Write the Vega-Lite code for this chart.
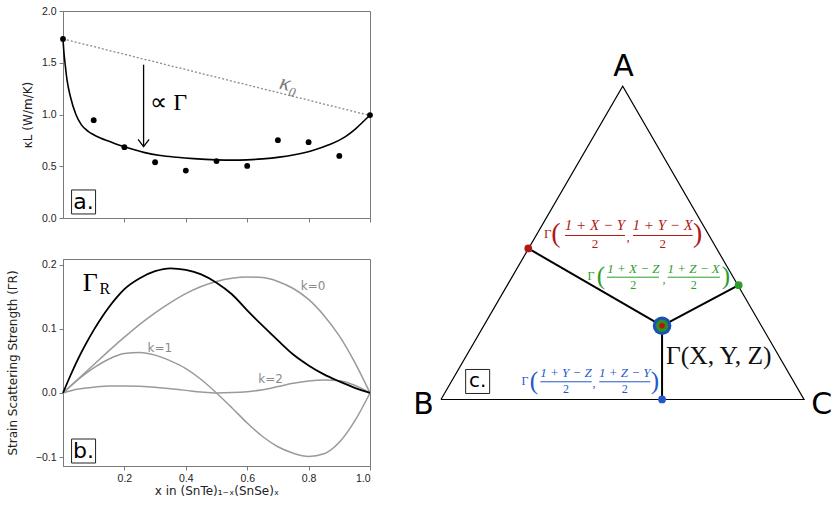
{
  "$schema": "https://vega.github.io/schema/vega-lite/v6.json",
  "padding": {"left": 5, "top": 5, "right": 0, "bottom": 0},
  "background": "white",
  "config": {
    "view": {"stroke": "#7a7a7a", "strokeWidth": 1},
    "axis": {"domainColor": "#7a7a7a", "tickColor": "#7a7a7a", "labelFont": "Liberation Sans", "labelFontSize": 10.5, "labelColor": "#222", "titleFont": "DejaVu Sans", "titleFontSize": 12, "titleFontWeight": "normal", "titleColor": "#222", "grid": false, "tickSize": 4, "labelPadding": 3}
  },
  "spacing": 16,
  "hconcat": [
    {
      "spacing": 34,
      "vconcat": [
        {
          "width": 307,
          "height": 207,
          "encoding": {
            "x": {"field": "x", "type": "quantitative", "scale": {"domain": [0, 1], "nice": false, "zero": false}, "axis": {"values": [0.2, 0.4, 0.6, 0.8, 1.0], "labels": false, "title": null}},
            "y": {"field": "y", "type": "quantitative", "scale": {"domain": [0, 2], "nice": false}, "axis": {"values": [0, 0.5, 1, 1.5, 2], "format": ".1f", "title": "κL (W/m/K)", "titlePadding": 7}}
          },
          "layer": [
            {"data": {"values": [{"x": 0, "y": 1.73}, {"x": 1, "y": 0.99}]}, "mark": {"type": "line", "color": "#8a8a8a", "strokeDash": [2, 2], "strokeWidth": 1.3}},
            {"data": {"values": [
              {"x": 0, "y": 1.73}, {"x": 0.003, "y": 1.6}, {"x": 0.0065, "y": 1.5}, {"x": 0.013, "y": 1.336}, {"x": 0.024, "y": 1.174}, {"x": 0.042, "y": 1.0}, {"x": 0.06, "y": 0.9}, {"x": 0.083, "y": 0.835}, {"x": 0.1, "y": 0.805}, {"x": 0.12, "y": 0.776}, {"x": 0.143, "y": 0.748}, {"x": 0.17, "y": 0.718}, {"x": 0.2, "y": 0.688}, {"x": 0.263, "y": 0.634}, {"x": 0.317, "y": 0.604}, {"x": 0.371, "y": 0.587}, {"x": 0.425, "y": 0.574}, {"x": 0.5, "y": 0.562}, {"x": 0.55, "y": 0.559}, {"x": 0.6, "y": 0.562}, {"x": 0.65, "y": 0.571}, {"x": 0.705, "y": 0.588}, {"x": 0.758, "y": 0.614}, {"x": 0.813, "y": 0.652}, {"x": 0.866, "y": 0.707}, {"x": 0.92, "y": 0.787}, {"x": 0.953, "y": 0.862}, {"x": 0.975, "y": 0.923}, {"x": 1.0, "y": 0.994}
            ]}, "mark": {"type": "line", "color": "black", "strokeWidth": 1.6, "interpolate": "monotone"}},
            {"data": {"values": [
              {"x": 0, "y": 1.73}, {"x": 0.1, "y": 0.945}, {"x": 0.2, "y": 0.684}, {"x": 0.3, "y": 0.539}, {"x": 0.4, "y": 0.458}, {"x": 0.5, "y": 0.55}, {"x": 0.6, "y": 0.503}, {"x": 0.7, "y": 0.752}, {"x": 0.8, "y": 0.733}, {"x": 0.9, "y": 0.6}, {"x": 1.0, "y": 0.994}
            ]}, "mark": {"type": "point", "filled": true, "color": "black", "size": 34, "opacity": 1}},
            {"data": {"values": [{"x": 0.2625, "y": 1.481, "y2": 0.7}]}, "mark": {"type": "rule", "color": "black", "strokeWidth": 1.3}, "encoding": {"y2": {"field": "y2"}}},
            {"data": {"values": [{"x": 0.2625, "y": 0.69}]}, "mark": {"type": "point", "shape": "M-1,-1.3L0,0L1,-1.3", "filled": false, "stroke": "black", "strokeWidth": 1.3, "size": 121, "opacity": 1}},
            {"data": {"values": [{"x": 0.2843, "y": 1.108, "t": "∝ Γ"}]}, "mark": {"type": "text", "align": "left", "baseline": "middle", "font": "Liberation Serif", "fontSize": 24, "color": "black"}, "encoding": {"text": {"field": "t"}}},
            {"data": {"values": [{"x": 0.736, "y": 1.297, "t": "κ₀"}]}, "mark": {"type": "text", "align": "center", "baseline": "middle", "font": "Liberation Serif", "fontStyle": "italic", "fontSize": 22, "color": "#777", "angle": 14}, "encoding": {"text": {"field": "t"}}},
            {"data": {"values": [{"x": 0.067, "y": 0.155}]}, "mark": {"type": "square", "size": 576, "fill": "white", "stroke": "#222", "strokeWidth": 1, "opacity": 1}},
            {"data": {"values": [{"x": 0.067, "y": 0.155, "t": "a."}]}, "mark": {"type": "text", "align": "center", "baseline": "middle", "font": "DejaVu Sans", "fontSize": 22, "color": "black"}, "encoding": {"text": {"field": "t"}}}
          ]
        },
        {
          "width": 307,
          "height": 207,
          "encoding": {
            "x": {"field": "x", "type": "quantitative", "scale": {"domain": [0, 1], "nice": false, "zero": false}, "axis": {"values": [0.2, 0.4, 0.6, 0.8, 1.0], "format": ".1f", "title": "x in (SnTe)₁₋ₓ(SnSe)ₓ", "titlePadding": 2}},
            "y": {"field": "y", "type": "quantitative", "scale": {"domain": [-0.114, 0.209], "nice": false, "zero": false}, "axis": {"values": [-0.1, 0, 0.1, 0.2], "format": ".1f", "title": "Strain Scattering Strength (ΓR)", "titlePadding": 16}}
          },
          "layer": [
            {"data": {"name": "curvesK"}, "mark": {"type": "line", "color": "#9a9a9a", "strokeWidth": 1.5, "interpolate": "monotone"}, "encoding": {"detail": {"field": "s"}}},
            {"data": {"name": "curveGR"}, "mark": {"type": "line", "color": "black", "strokeWidth": 1.8, "interpolate": "monotone"}},
            {"data": {"values": [{"x": 0.0889, "y": 0.172, "t": "Γ"}]}, "mark": {"type": "text", "align": "center", "baseline": "middle", "font": "Liberation Serif", "fontSize": 26, "color": "black"}, "encoding": {"text": {"field": "t"}}},
            {"data": {"values": [{"x": 0.136, "y": 0.162, "t": "R"}]}, "mark": {"type": "text", "align": "center", "baseline": "middle", "font": "Liberation Serif", "fontSize": 16, "color": "black"}, "encoding": {"text": {"field": "t"}}},
            {"data": {"values": [{"x": 0.8147, "y": 0.1675, "t": "k=0"}, {"x": 0.3153, "y": 0.0698, "t": "k=1"}, {"x": 0.676, "y": 0.0216, "t": "k=2"}]}, "mark": {"type": "text", "align": "center", "baseline": "middle", "font": "DejaVu Sans", "fontSize": 12, "color": "#8a8a8a"}, "encoding": {"text": {"field": "t"}}},
            {"data": {"values": [{"x": 0.067, "y": -0.0906}]}, "mark": {"type": "square", "size": 576, "fill": "white", "stroke": "#222", "strokeWidth": 1, "opacity": 1}},
            {"data": {"values": [{"x": 0.067, "y": -0.0906, "t": "b."}]}, "mark": {"type": "text", "align": "center", "baseline": "middle", "font": "DejaVu Sans", "fontSize": 22, "color": "black"}, "encoding": {"text": {"field": "t"}}}
          ]
        }
      ]
    },
    {
      "width": 440,
      "height": 456,
      "view": {"stroke": null},
      "encoding": {
        "x": {"field": "u", "type": "quantitative", "scale": {"domain": [-0.1377, 1.0744], "nice": false, "zero": false}, "axis": null},
        "y": {"field": "v", "type": "quantitative", "scale": {"domain": [-0.186, 1.0702], "nice": false, "zero": false}, "axis": null}
      },
      "layer": [
        {"data": {"values": [{"u": 0, "v": 0, "o": 0}, {"u": 0.5006, "v": 0.863, "o": 1}, {"u": 1.0, "v": 0, "o": 2}, {"u": 0, "v": 0, "o": 3}]}, "mark": {"type": "line", "color": "black", "strokeWidth": 1.2}, "encoding": {"order": {"field": "o", "type": "quantitative"}}},
        {"data": {"values": [{"u": 0.609, "v": 0.203, "u2": 0.2405, "v2": 0.416}, {"u": 0.609, "v": 0.203, "u2": 0.82, "v2": 0.315}, {"u": 0.609, "v": 0.203, "u2": 0.609, "v2": 0}]}, "mark": {"type": "rule", "color": "black", "strokeWidth": 2}, "encoding": {"x2": {"field": "u2"}, "y2": {"field": "v2"}}},
        {"data": {"values": [{"g": "red", "u": 0.3416, "u2": 0.5069, "v": 0.4518}, {"g": "red", "u": 0.5289, "u2": 0.6934, "v": 0.4518}, {"g": "green", "u": 0.4573, "u2": 0.6006, "v": 0.3369}, {"g": "green", "u": 0.6245, "u2": 0.7686, "v": 0.3369}, {"g": "blue", "u": 0.2736, "u2": 0.4152, "v": 0.0488}, {"g": "blue", "u": 0.4361, "u2": 0.5766, "v": 0.0488}]}, "mark": {"type": "rule", "strokeWidth": 1}, "encoding": {"x2": {"field": "u2"}, "color": {"field": "g", "type": "nominal", "scale": {"domain": ["red", "green", "blue"], "range": ["#b01818", "#2a9d2a", "#2358cc"]}, "legend": null}}},
        {"data": {"values": [{"g": "red", "u": 0.2405, "v": 0.416}, {"g": "green", "u": 0.82, "v": 0.315}, {"g": "blue", "u": 0.609, "v": 0}]}, "mark": {"type": "point", "filled": true, "size": 60, "opacity": 1}, "encoding": {"color": {"field": "g", "type": "nominal", "scale": {"domain": ["red", "green", "blue"], "range": ["#b01818", "#2a9d2a", "#2358cc"]}, "legend": null}}},
        {"data": {"values": [{"u": 0.609, "v": 0.203}]}, "mark": {"type": "point", "filled": true, "size": 346, "color": "#1b4fb0", "opacity": 1}},
        {"data": {"values": [{"u": 0.609, "v": 0.203}]}, "mark": {"type": "point", "filled": true, "size": 154, "color": "#2a8f2a", "opacity": 1}},
        {"data": {"values": [{"u": 0.609, "v": 0.203}]}, "mark": {"type": "point", "filled": true, "size": 31, "color": "#c01010", "opacity": 1}},
        {"data": {"name": "formula"}, "transform": [{"filter": "datum.g == 'red' && datum.k == 'num'"}], "mark": {"type": "text", "align": "center", "baseline": "middle", "font": "Liberation Serif", "fontStyle": "italic", "fontSize": 15}, "encoding": {"text": {"field": "t"}, "color": {"field": "g", "type": "nominal", "scale": {"domain": ["red", "green", "blue"], "range": ["#b01818", "#2a9d2a", "#2358cc"]}, "legend": null}}},
        {"data": {"name": "formula"}, "transform": [{"filter": "datum.g != 'red' && datum.k == 'num'"}], "mark": {"type": "text", "align": "center", "baseline": "middle", "font": "Liberation Serif", "fontStyle": "italic", "fontSize": 13}, "encoding": {"text": {"field": "t"}, "color": {"field": "g", "type": "nominal", "scale": {"domain": ["red", "green", "blue"], "range": ["#b01818", "#2a9d2a", "#2358cc"]}, "legend": null}}},
        {"data": {"name": "formula"}, "transform": [{"filter": "datum.g == 'red' && (datum.k == 'den' || datum.k == 'gam' || datum.k == 'com')"}], "mark": {"type": "text", "align": "center", "baseline": "middle", "font": "Liberation Serif", "fontSize": 13}, "encoding": {"text": {"field": "t"}, "color": {"field": "g", "type": "nominal", "scale": {"domain": ["red", "green", "blue"], "range": ["#b01818", "#2a9d2a", "#2358cc"]}, "legend": null}}},
        {"data": {"name": "formula"}, "transform": [{"filter": "datum.g != 'red' && (datum.k == 'den' || datum.k == 'gam' || datum.k == 'com')"}], "mark": {"type": "text", "align": "center", "baseline": "middle", "font": "Liberation Serif", "fontSize": 12}, "encoding": {"text": {"field": "t"}, "color": {"field": "g", "type": "nominal", "scale": {"domain": ["red", "green", "blue"], "range": ["#b01818", "#2a9d2a", "#2358cc"]}, "legend": null}}},
        {"data": {"name": "formula"}, "transform": [{"filter": "datum.g == 'red' && datum.k == 'par'"}], "mark": {"type": "text", "align": "center", "baseline": "middle", "font": "Liberation Serif", "fontSize": 28}, "encoding": {"text": {"field": "t"}, "color": {"field": "g", "type": "nominal", "scale": {"domain": ["red", "green", "blue"], "range": ["#b01818", "#2a9d2a", "#2358cc"]}, "legend": null}}},
        {"data": {"name": "formula"}, "transform": [{"filter": "datum.g != 'red' && datum.k == 'par'"}], "mark": {"type": "text", "align": "center", "baseline": "middle", "font": "Liberation Serif", "fontSize": 25}, "encoding": {"text": {"field": "t"}, "color": {"field": "g", "type": "nominal", "scale": {"domain": ["red", "green", "blue"], "range": ["#b01818", "#2a9d2a", "#2358cc"]}, "legend": null}}},
        {"data": {"values": [{"u": 0.62, "v": 0.1185, "t": "Γ(X, Y, Z)"}]}, "mark": {"type": "text", "align": "left", "baseline": "middle", "font": "Liberation Serif", "fontSize": 25.5, "color": "#111"}, "encoding": {"text": {"field": "t"}}},
        {"data": {"values": [{"u": 0.503, "v": 0.915, "t": "A"}, {"u": -0.0477, "v": -0.0157, "t": "B"}, {"u": 1.0487, "v": -0.0157, "t": "C"}]}, "mark": {"type": "text", "align": "center", "baseline": "middle", "font": "DejaVu Sans", "fontSize": 30, "color": "black"}, "encoding": {"text": {"field": "t"}}},
        {"data": {"values": [{"u": 0.101, "v": 0.0496}]}, "mark": {"type": "square", "size": 576, "fill": "white", "stroke": "#222", "strokeWidth": 1, "opacity": 1}},
        {"data": {"values": [{"u": 0.101, "v": 0.0496, "t": "c."}]}, "mark": {"type": "text", "align": "center", "baseline": "middle", "font": "DejaVu Sans", "fontSize": 20, "color": "black"}, "encoding": {"text": {"field": "t"}}}
      ]
    }
  ],
  "datasets": {
    "curveGR": [
      {"x": 0, "y": 0}, {"x": 0.025, "y": 0.028}, {"x": 0.05, "y": 0.054}, {"x": 0.075, "y": 0.077}, {"x": 0.1, "y": 0.098}, {"x": 0.125, "y": 0.117}, {"x": 0.15, "y": 0.134}, {"x": 0.175, "y": 0.149}, {"x": 0.2, "y": 0.162}, {"x": 0.25, "y": 0.179}, {"x": 0.3, "y": 0.19}, {"x": 0.35, "y": 0.1945}, {"x": 0.4, "y": 0.192}, {"x": 0.45, "y": 0.185}, {"x": 0.5, "y": 0.172}, {"x": 0.55, "y": 0.154}, {"x": 0.6, "y": 0.129}, {"x": 0.65, "y": 0.105}, {"x": 0.7, "y": 0.082}, {"x": 0.75, "y": 0.06}, {"x": 0.8, "y": 0.043}, {"x": 0.85, "y": 0.029}, {"x": 0.9, "y": 0.018}, {"x": 0.95, "y": 0.008}, {"x": 1, "y": 0}
    ],
    "curvesK": [
      {"s": "k0", "x": 0, "y": 0}, {"s": "k0", "x": 0.05, "y": 0.022}, {"s": "k0", "x": 0.1, "y": 0.044}, {"s": "k0", "x": 0.15, "y": 0.066}, {"s": "k0", "x": 0.2, "y": 0.087}, {"s": "k0", "x": 0.25, "y": 0.107}, {"s": "k0", "x": 0.3, "y": 0.125}, {"s": "k0", "x": 0.35, "y": 0.141}, {"s": "k0", "x": 0.4, "y": 0.155}, {"s": "k0", "x": 0.45, "y": 0.166}, {"s": "k0", "x": 0.5, "y": 0.174}, {"s": "k0", "x": 0.55, "y": 0.179}, {"s": "k0", "x": 0.6, "y": 0.181}, {"s": "k0", "x": 0.65, "y": 0.18}, {"s": "k0", "x": 0.7, "y": 0.174}, {"s": "k0", "x": 0.75, "y": 0.163}, {"s": "k0", "x": 0.8, "y": 0.146}, {"s": "k0", "x": 0.85, "y": 0.121}, {"s": "k0", "x": 0.9, "y": 0.089}, {"s": "k0", "x": 0.95, "y": 0.048}, {"s": "k0", "x": 1, "y": 0},
      {"s": "k1", "x": 0, "y": 0}, {"s": "k1", "x": 0.05, "y": 0.021}, {"s": "k1", "x": 0.1, "y": 0.039}, {"s": "k1", "x": 0.15, "y": 0.053}, {"s": "k1", "x": 0.2, "y": 0.0615}, {"s": "k1", "x": 0.25, "y": 0.063}, {"s": "k1", "x": 0.3, "y": 0.059}, {"s": "k1", "x": 0.35, "y": 0.05}, {"s": "k1", "x": 0.4, "y": 0.038}, {"s": "k1", "x": 0.45, "y": 0.021}, {"s": "k1", "x": 0.5, "y": 0}, {"s": "k1", "x": 0.55, "y": -0.023}, {"s": "k1", "x": 0.6, "y": -0.047}, {"s": "k1", "x": 0.65, "y": -0.068}, {"s": "k1", "x": 0.7, "y": -0.084}, {"s": "k1", "x": 0.75, "y": -0.094}, {"s": "k1", "x": 0.8, "y": -0.099}, {"s": "k1", "x": 0.85, "y": -0.095}, {"s": "k1", "x": 0.9, "y": -0.077}, {"s": "k1", "x": 0.95, "y": -0.044}, {"s": "k1", "x": 1, "y": 0},
      {"s": "k2", "x": 0, "y": 0}, {"s": "k2", "x": 0.05, "y": 0.006}, {"s": "k2", "x": 0.1, "y": 0.009}, {"s": "k2", "x": 0.15, "y": 0.011}, {"s": "k2", "x": 0.2, "y": 0.011}, {"s": "k2", "x": 0.25, "y": 0.0105}, {"s": "k2", "x": 0.3, "y": 0.009}, {"s": "k2", "x": 0.35, "y": 0.0065}, {"s": "k2", "x": 0.4, "y": 0.004}, {"s": "k2", "x": 0.45, "y": 0.0015}, {"s": "k2", "x": 0.5, "y": 0}, {"s": "k2", "x": 0.55, "y": 0.0005}, {"s": "k2", "x": 0.6, "y": 0.002}, {"s": "k2", "x": 0.65, "y": 0.005}, {"s": "k2", "x": 0.7, "y": 0.01}, {"s": "k2", "x": 0.75, "y": 0.015}, {"s": "k2", "x": 0.8, "y": 0.0185}, {"s": "k2", "x": 0.85, "y": 0.02}, {"s": "k2", "x": 0.9, "y": 0.019}, {"s": "k2", "x": 0.95, "y": 0.012}, {"s": "k2", "x": 1, "y": 0}
    ],
    "formula": [
      {"g": "red", "k": "gam", "u": 0.294, "v": 0.4545, "t": "Γ"},
      {"g": "red", "k": "par", "u": 0.3168, "v": 0.4545, "t": "("},
      {"g": "red", "k": "num", "u": 0.4242, "v": 0.4793, "t": "1 + X − Y"},
      {"g": "red", "k": "den", "u": 0.4242, "v": 0.4284, "t": "2"},
      {"g": "red", "k": "com", "u": 0.5152, "v": 0.4463, "t": ","},
      {"g": "red", "k": "num", "u": 0.6107, "v": 0.4793, "t": "1 + Y − X"},
      {"g": "red", "k": "den", "u": 0.6107, "v": 0.4284, "t": "2"},
      {"g": "red", "k": "par", "u": 0.7072, "v": 0.4545, "t": ")"},
      {"g": "green", "k": "gam", "u": 0.4132, "v": 0.3388, "t": "Γ"},
      {"g": "green", "k": "par", "u": 0.4408, "v": 0.3388, "t": "("},
      {"g": "green", "k": "num", "u": 0.5298, "v": 0.3601, "t": "1 + X − Z"},
      {"g": "green", "k": "den", "u": 0.5298, "v": 0.3149, "t": "2"},
      {"g": "green", "k": "com", "u": 0.6143, "v": 0.3306, "t": ","},
      {"g": "green", "k": "num", "u": 0.6961, "v": 0.3601, "t": "1 + Z − X"},
      {"g": "green", "k": "den", "u": 0.6961, "v": 0.3149, "t": "2"},
      {"g": "green", "k": "par", "u": 0.7851, "v": 0.3388, "t": ")"},
      {"g": "blue", "k": "gam", "u": 0.2314, "v": 0.0504, "t": "Γ"},
      {"g": "blue", "k": "par", "u": 0.2562, "v": 0.0504, "t": "("},
      {"g": "blue", "k": "num", "u": 0.3444, "v": 0.0716, "t": "1 + Y − Z"},
      {"g": "blue", "k": "den", "u": 0.3444, "v": 0.0275, "t": "2"},
      {"g": "blue", "k": "com", "u": 0.4215, "v": 0.0441, "t": ","},
      {"g": "blue", "k": "num", "u": 0.5061, "v": 0.0716, "t": "1 + Z − Y"},
      {"g": "blue", "k": "den", "u": 0.5061, "v": 0.0275, "t": "2"},
      {"g": "blue", "k": "par", "u": 0.5895, "v": 0.0504, "t": ")"}
    ]
  }
}
